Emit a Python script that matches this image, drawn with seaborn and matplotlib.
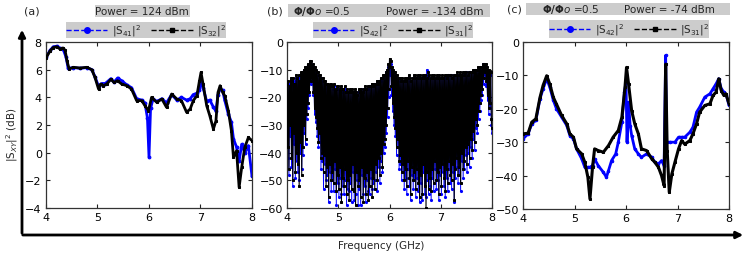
import numpy as np
import pandas as pd
import matplotlib
matplotlib.use("Agg")
import matplotlib.pyplot as plt
import seaborn as sns
from matplotlib.patches import Rectangle, FancyArrowPatch
from matplotlib.lines import Line2D

# ---------------- data ----------------
xa_black = [4.0,4.08,4.14,4.21,4.27,4.33,4.37,4.41,4.45,4.53,4.66,4.79,4.89,4.95,5.02,5.06,5.11,5.18,5.26,5.32,5.39,5.47,5.57,5.66,5.76,5.86,5.92,5.99,6.05,6.15,6.25,6.34,6.44,6.54,6.63,6.73,6.80,6.86,6.93,6.98,7.01,7.05,7.12,7.18,7.25,7.30,7.34,7.38,7.43,7.47,7.54,7.60,7.64,7.70,7.75,7.80,7.86,7.93,8.0]
ya_black = [6.84,7.37,7.6,7.66,7.5,7.57,7.4,6.6,6.05,6.17,6.12,6.17,6.0,5.45,4.6,4.96,4.84,4.96,5.3,5.08,5.2,4.96,4.84,4.6,3.76,3.76,3.4,3.04,4.0,3.64,3.88,3.28,4.24,3.88,3.76,2.92,3.16,3.76,4.12,5.2,5.8,4.96,3.4,2.68,1.71,2.3,4.36,4.84,4.36,4.12,3.04,1.59,-0.34,0.14,-2.5,-1.06,0.39,1.1,0.87]
xa_blue = [4.0,4.08,4.14,4.21,4.27,4.33,4.39,4.43,4.53,4.66,4.79,4.89,4.95,5.02,5.08,5.15,5.26,5.32,5.39,5.47,5.57,5.66,5.76,5.86,5.92,5.97,6.0,6.03,6.08,6.15,6.25,6.34,6.44,6.54,6.63,6.73,6.80,6.86,6.93,6.98,7.01,7.05,7.12,7.18,7.25,7.30,7.34,7.38,7.43,7.47,7.54,7.60,7.64,7.70,7.75,7.80,7.86,7.93,8.0]
ya_blue = [6.9,7.4,7.65,7.7,7.55,7.5,6.9,6.1,6.15,6.1,6.15,6.0,5.5,4.8,5.0,5.0,5.35,5.1,5.4,5.2,4.9,4.7,3.9,3.8,3.6,2.5,-0.3,3.2,3.9,3.7,3.9,3.6,4.2,3.8,4.0,3.8,3.9,4.2,4.3,4.5,5.2,4.7,3.7,3.8,3.3,3.0,4.2,4.6,4.5,3.8,2.8,2.2,1.0,0.4,-0.6,0.6,0.0,0.5,-1.7]

xb = np.linspace(4.0, 8.0, 321)  # frequency sweep points (12.5 MHz step)
yb_black = [
    -15,-38,-14,-46,-16,-30,-13,-42,  -14,-50,-13,-33,-15,-47,-12,-40,
    -13,-44,-12,-52,-14,-36,-11,-48,  -11,-38,-10,-30,-9,-35,-9,-26,
    -8,-22,-8,-18,-7,-14,-7,-13,      -8,-18,-9,-24,-9,-27,-10,-31,
    -11,-36,-12,-33,-12,-42,-13,-40,  -13,-47,-14,-41,-14,-52,-15,-45,
    -15,-56,-16,-44,-15,-50,-16,-47,  -16,-51,-15,-43,-17,-54,-16,-48,
    -16,-53,-17,-45,-16,-58,-17,-49,  -17,-52,-16,-46,-18,-55,-17,-50,
    -18,-57,-17,-48,-18,-53,-17,-44,  -18,-54,-17,-59,-18,-47,-19,-52,
    -17,-50,-18,-56,-17,-45,-18,-58,  -17,-49,-16,-55,-17,-47,-16,-57,
    -16,-52,-16,-46,-15,-56,-16,-49,  -15,-53,-15,-44,-14,-50,-15,-42,
    -14,-48,-13,-40,-13,-45,-12,-37,  -12,-35,-11,-30,-10,-24,-8,-17,
    -6,-9,-7,-16,-9,-22,-10,-27,      -11,-31,-12,-38,-12,-35,-13,-43,
    -13,-41,-14,-47,-13,-44,-14,-50,  -13,-46,-14,-52,-13,-43,-12,-49,
    -13,-55,-14,-45,-13,-50,-12,-47,  -12,-53,-13,-46,-12,-51,-13,-56,
    -12,-48,-13,-55,-12,-44,-13,-52,  -12,-60,-13,-47,-11,-53,-12,-49,
    -13,-54,-12,-46,-13,-51,-12,-43,  -13,-50,-12,-47,-13,-55,-12,-45,
    -13,-52,-12,-44,-13,-49,-12,-54,  -12,-46,-13,-51,-12,-43,-12,-48,
    -12,-50,-13,-44,-12,-57,-12,-46,  -12,-42,-11,-48,-12,-45,-11,-51,
    -12,-40,-11,-46,-12,-43,-11,-38,  -11,-44,-12,-37,-11,-42,-11,-35,
    -11,-39,-10,-32,-11,-36,-10,-28,  -10,-30,-9,-25,-10,-22,-9,-19,
    -9,-17,-8,-13,-8,-11,-8,-14,      -9,-19,-10,-24,-10,-22,-11,-28,
    -31]
yb_blue = [
    -16,-42,-15,-48,-15,-34,-14,-45,  -15,-52,-14,-37,-14,-49,-13,-43,
    -13,-47,-13,-50,-13,-40,-12,-46,  -11,-41,-10,-33,-10,-37,-9,-28,
    -9,-24,-8,-19,-7,-15,-8,-14,      -9,-19,-9,-26,-10,-29,-11,-34,
    -12,-38,-12,-36,-13,-46,-13,-43,  -14,-53,-14,-44,-15,-50,-15,-48,
    -16,-58,-16,-47,-16,-54,-16,-50,  -17,-54,-16,-46,-17,-59,-17,-51,
    -17,-56,-17,-49,-17,-55,-18,-52,  -17,-55,-17,-50,-18,-59,-18,-53,
    -18,-54,-18,-51,-18,-58,-18,-47,  -18,-57,-18,-55,-18,-50,-19,-59,
    -18,-53,-18,-59,-17,-48,-18,-55,  -17,-52,-17,-58,-17,-50,-17,-54,
    -16,-55,-16,-49,-16,-53,-16,-51,  -15,-50,-15,-47,-15,-54,-15,-45,
    -14,-51,-14,-43,-13,-47,-13,-40,  -12,-38,-11,-33,-11,-27,-9,-20,
    -7,-12,-8,-19,-10,-25,-11,-30,    -12,-34,-12,-41,-13,-38,-13,-46,
    -14,-44,-14,-50,-14,-47,-14,-53,  -14,-49,-14,-55,-13,-46,-13,-52,
    -14,-57,-14,-48,-13,-53,-13,-50,  -13,-56,-13,-49,-13,-54,-13,-58,
    -13,-51,-13,-57,-13,-47,-13,-55,  -12,-56,-10,-50,-12,-55,-13,-52,
    -13,-57,-13,-49,-13,-54,-13,-46,  -13,-53,-13,-50,-13,-57,-13,-48,
    -13,-55,-13,-47,-13,-52,-13,-56,  -13,-49,-13,-54,-12,-46,-12,-51,
    -12,-53,-13,-47,-12,-58,-12,-49,  -12,-45,-12,-51,-12,-48,-12,-54,
    -12,-43,-12,-49,-12,-46,-11,-41,  -11,-47,-12,-40,-11,-45,-11,-38,
    -11,-42,-11,-35,-11,-39,-10,-31,  -10,-33,-10,-28,-10,-25,-9,-21,
    -9,-19,-8,-15,-8,-12,-9,-16,      -10,-21,-10,-26,-11,-24,-12,-30,
    -33]

xc_black = [4.0,4.1,4.17,4.25,4.33,4.39,4.46,4.52,4.59,4.65,4.75,4.85,4.91,4.98,5.04,5.14,5.20,5.26,5.30,5.35,5.39,5.46,5.56,5.66,5.75,5.85,5.92,5.98,6.01,6.05,6.11,6.17,6.24,6.30,6.40,6.50,6.56,6.63,6.69,6.74,6.77,6.80,6.84,6.89,6.95,7.02,7.08,7.14,7.24,7.30,7.37,7.43,7.53,7.63,7.69,7.75,7.80,7.85,7.90,7.94,8.0]
yc_black = [-27.5,-27.3,-24,-23,-16.6,-13,-10.1,-12.6,-16.6,-18.6,-22,-24.5,-27.5,-28.5,-32,-33.5,-36,-40.5,-47,-37.5,-32,-32.5,-33,-31,-28.5,-26.5,-22.5,-13.6,-7.6,-12.6,-20.6,-24.5,-27.5,-32,-32.5,-35,-36,-37.5,-40,-43,-6.6,-32.5,-45,-39.5,-36,-32,-29.5,-30.6,-29.5,-27.5,-24.5,-21,-19,-18.5,-16,-15,-11,-14.6,-16,-15.5,-18.5]
xc_blue = [4.0,4.1,4.17,4.25,4.33,4.39,4.46,4.52,4.59,4.65,4.75,4.85,4.91,4.98,5.04,5.14,5.20,5.26,5.30,5.35,5.39,5.46,5.56,5.62,5.66,5.72,5.80,5.85,5.92,5.97,6.0,6.02,6.05,6.08,6.11,6.17,6.24,6.30,6.40,6.50,6.56,6.63,6.69,6.74,6.77,6.79,6.85,6.95,7.02,7.08,7.14,7.24,7.30,7.37,7.43,7.53,7.63,7.69,7.75,7.80,7.85,7.90,7.95,8.0]
yc_blue = [-29,-27.5,-24.5,-23.5,-17,-14,-11,-13.5,-17.5,-20,-22.5,-25,-28,-29,-32,-35,-37.5,-37.5,-37.5,-37,-35,-37,-39,-40.5,-38.5,-35.5,-33.5,-30,-24,-15,-12,-30,-18,-25,-28,-32,-33.5,-34.5,-33.5,-34.5,-36,-36.5,-35.5,-37,-4,-30,-30,-30,-28.5,-28.5,-28.5,-27,-25.5,-21,-19.5,-16.5,-15.5,-14,-12.5,-11,-14,-15,-16,-19]

panel_labels = ["(a)", "(b)", "(c)"]
legend_a = [r"|S$_{41}$|$^2$", r"|S$_{32}$|$^2$"]
legend_bc = [r"|S$_{42}$|$^2$", r"|S$_{31}$|$^2$"]
yticks_a = [-4, -2, 0, 2, 4, 6, 8]
yticks_b = [-60, -50, -40, -30, -20, -10, 0]
yticks_c = [-50, -40, -30, -20, -10, 0]
xticks = [4, 5, 6, 7, 8]

# ---------------- style ----------------
sns.set_style("ticks")
plt.rcParams.update({
    "font.family": ["DejaVu Sans"],
    "xtick.direction": "in", "ytick.direction": "in",
    "xtick.top": True, "ytick.right": True,
    "xtick.major.size": 3, "ytick.major.size": 3,
    "xtick.labelsize": 8, "ytick.labelsize": 8,
    "axes.edgecolor": "#333333", "axes.linewidth": 0.9,
})

W, H = 747, 255
fig = plt.figure(figsize=(W / 100, H / 100), dpi=100)

def ax_px(x0, x1, ytop, ybot):
    return fig.add_axes([x0 / W, 1 - ybot / H, (x1 - x0) / W, (ybot - ytop) / H])

ax_a = ax_px(46, 252, 43, 209)
ax_b = ax_px(287, 492, 43, 209)
ax_c = ax_px(523, 729, 43, 210)

BLUE = "#0000ff"
BLACK = "#000000"

# panel (a)
sns.lineplot(x=xa_blue, y=ya_blue, ax=ax_a, color=BLUE, lw=2.0, marker="o", ms=2,
             mec=BLUE, sort=False, zorder=2)
sns.lineplot(x=xa_black, y=ya_black, ax=ax_a, color=BLACK, lw=2.0, marker="s", ms=1.8,
             mec=BLACK, sort=False, zorder=3)
# panel (b)
sns.lineplot(x=xb, y=yb_blue, ax=ax_b, color=BLUE, lw=0.7, marker="o", ms=1.5,
             mec=BLUE, sort=False, zorder=2)
sns.lineplot(x=xb, y=yb_black, ax=ax_b, color=BLACK, lw=0.8, marker="s", ms=1.4,
             mec=BLACK, sort=False, zorder=3)
# panel (c)
sns.lineplot(x=xc_blue, y=yc_blue, ax=ax_c, color=BLUE, lw=2.0, marker="o", ms=1.8,
             mec=BLUE, sort=False, zorder=2)
sns.lineplot(x=xc_black, y=yc_black, ax=ax_c, color=BLACK, lw=2.2, marker="s", ms=1.5,
             mec=BLACK, sort=False, zorder=3)

for ax, yt in [(ax_a, yticks_a), (ax_b, yticks_b), (ax_c, yticks_c)]:
    ax.set_xlim(4, 8)
    ax.set_ylim(yt[0], yt[-1])
    ax.set_xticks(xticks)
    ax.set_yticks(yt)
    ax.set_xlabel("")
    ax.set_ylabel("")
    ax.tick_params(pad=3, colors="#222222", labelcolor="black")

# gray boxes
GRAY = "#cccccc"
def box(x0, y0, x1, y1):
    fig.patches.append(Rectangle((x0 / W, 1 - y1 / H), (x1 - x0) / W, (y1 - y0) / H,
                                 transform=fig.transFigure, facecolor=GRAY,
                                 edgecolor="none", zorder=-1))

def ftext(x, y, s, **kw):
    fig.text(x / W, 1 - y / H, s, va="center", fontsize=7.5, **kw)

# titles
box(95, 6, 190, 18)
ftext(142, 12, "Power = 124 dBm", ha="center")
box(288, 5, 490, 18)
ftext(293, 12, r"$\mathbf{\Phi/\Phi}$$\mathit{o}$ =0.5", ha="left")
ftext(483, 12, "Power = -134 dBm", ha="right")
box(526, 4, 730, 16)
ftext(542, 10, r"$\mathbf{\Phi/\Phi}$$\mathit{o}$ =0.5", ha="left")
ftext(715, 10, "Power = -74 dBm", ha="right")

fig.text(32 / W, 1 - 12 / H, panel_labels[0], ha="center", va="center", fontsize=8)
fig.text(275 / W, 1 - 12 / H, panel_labels[1], ha="center", va="center", fontsize=8)
fig.text(514 / W, 1 - 10 / H, panel_labels[2], ha="center", va="center", fontsize=8)

# legends
def leg(ax, labels, x0, y0, x1, y1):
    box(x0, y0, x1, y1)
    h1 = Line2D([], [], color=BLUE, ls="--", marker="o", ms=4, lw=1)
    h2 = Line2D([], [], color=BLACK, ls="--", marker="s", ms=3.5, lw=1)
    lg = ax.legend([h1, h2], labels, ncol=2, frameon=False, loc="center",
                   bbox_to_anchor=(((x0 + x1) / 2) / W, 1 - ((y0 + y1) / 2) / H),
                   bbox_transform=fig.transFigure, fontsize=7.5, handlelength=4.0,
                   handletextpad=0.4, columnspacing=1.0, borderpad=0, numpoints=1)
    lg.set_zorder(10)

leg(ax_a, legend_a, 66, 23, 226, 39)
leg(ax_b, legend_bc, 313, 23, 473, 39)
leg(ax_c, legend_bc, 549, 21, 709, 39)

# arrows (axes of the whole figure)
arr_h = FancyArrowPatch((20 / W, 1 - 236 / H), (746 / W, 1 - 236 / H),
                        transform=fig.transFigure, arrowstyle="-|>", mutation_scale=10,
                        lw=2, color="black")
arr_v = FancyArrowPatch((22 / W, 1 - 237 / H), (22 / W, 1 - 28 / H),
                        transform=fig.transFigure, arrowstyle="-|>", mutation_scale=10,
                        lw=2, color="black")
fig.patches.extend([arr_h, arr_v])

fig.text(381 / W, 1 - 246 / H, "Frequency (GHz)", ha="center", va="center", fontsize=7.5)
fig.text(12 / W, 1 - 135 / H, r"|S$_{XY}$|$^2$ (dB)", ha="center", va="center",
         rotation=90, fontsize=7.5)

fig.savefig("out.png", dpi=100)
